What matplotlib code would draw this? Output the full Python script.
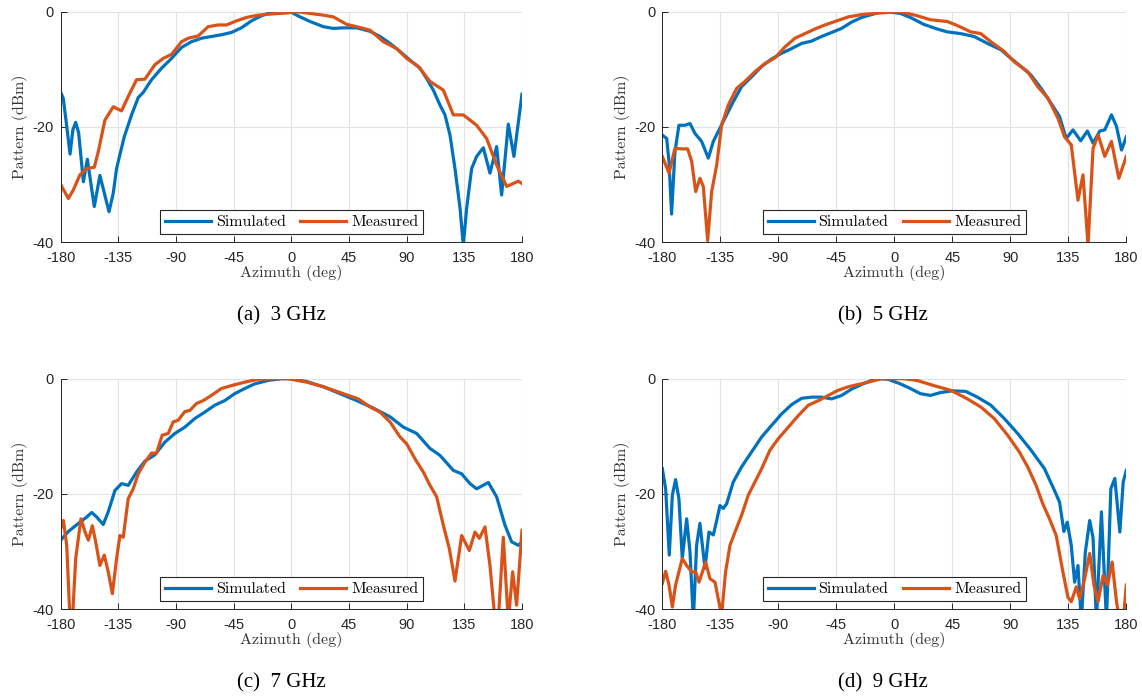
import matplotlib
matplotlib.use("Agg")
import matplotlib.pyplot as plt

# values (azimuth in deg, pattern in dBm)
az_a_sim = [-180, -178, -175.5, -172.7, -170.5, -168.3, -166, -162.3, -159.2, -153.8, -149.4, -142.3, -139, -136.4,
            -130.4, -124.7, -119.5, -115.6, -109.1, -101.3, -93.5, -85.7, -77.9, -70.1, -62.4, -54.6, -46.8, -39,
            -31.2, -23.4, -15.6, -7.8, 0, 6.8, 14.6, 25, 32.8, 40.6, 51, 61.4, 69.2, 77, 84.8, 92.6, 100.4, 105.6,
            110.8, 116, 119.9, 123.8, 127.7, 131.6, 134.2, 136.8, 140.7, 144.6, 149.8, 155, 160.2, 164.1, 169.3,
            173.7, 180]
db_a_sim = [-14.0, -15, -19.5, -24.7, -20.5, -19.2, -21, -29.5, -25.6, -33.8, -28.4, -34.7, -31.5, -27.2,
            -21.7, -17.9, -14.9, -14, -11.8, -9.8, -8.1, -6.2, -5.2, -4.6, -4.3, -4.0, -3.6, -2.8,
            -1.6, -0.7, -0.1, 0, -0.1, -0.9, -1.7, -2.6, -2.9, -2.8, -2.8, -3.4, -4.3, -5.5, -6.9, -8.4, -9.8, -11.6,
            -13.6, -16.2, -17.9, -21.4, -27.2, -34, -40.5, -34.1, -27.2, -25.1, -23.6, -28, -23.4, -31.8, -19.5,
            -25.1, -14.3]
az_a_meas = [-180, -174, -170.1, -165, -159.7, -153.8, -150.7, -145.5, -139, -132.5, -127.3, -120.8, -114.3,
             -106.5, -100, -93.5, -85.7, -80.5, -72.7, -64.9, -57.2, -50.7, -42.9, -35.1, -26, -15.6, -2.6, 4.2,
             14.6, 25, 32.8, 43.2, 51, 61.4, 71.8, 82.2, 90, 99.1, 108.2, 118.6, 126.4, 134.2, 144.6, 152.4, 160.2,
             168, 173.2, 177.1, 180]
db_a_meas = [-30, -32.4, -30.9, -28.3, -27.2, -27, -24.3, -18.8, -16.5, -17.2, -14.7, -11.8, -11.7,
             -9.2, -8.1, -7.4, -5.2, -4.6, -4.2, -2.6, -2.3, -2.3, -1.6, -1.0, -0.6, -0.4, -0.2, 0,
             -0.3, -0.6, -0.9, -2.2, -2.6, -3.2, -5.2, -6.4, -8.1, -9.5, -12.1, -13.6, -17.9, -17.9, -19.7, -22,
             -26.6, -30.3, -29.8, -29.4, -29.8]

az_b_sim = [-180, -176.6, -174.8, -172.8, -170.2, -167.1, -162.4, -158.5, -154.7, -149.5, -144.3, -140.4, -135.3,
            -130.1, -124.9, -118.5, -110.7, -102.9, -95.2, -87.4, -79.7, -71.9, -64.2, -56.4, -48.6, -40.9, -33.1,
            -25.4, -17.6, -9.8, -2.1, 4.7, 12.5, 22.9, 33.3, 41.1, 51.5, 61.9, 72.3, 82.7, 90.5, 98.3, 106.1, 113.9,
            121.7, 128.2, 133.4, 138.6, 144.6, 149.8, 154.2, 159.4, 163.3, 168.5, 172.4, 176.3, 180]
db_b_sim = [-21.4, -22, -26, -35.1, -24.3, -19.7, -19.7, -19.4, -21.1, -22.5, -25.4, -22.5, -20.2,
            -17.9, -15.6, -13, -11.3, -9.5, -8.2, -7.2, -6.4, -5.5, -5.1, -4.3, -3.6, -2.9, -1.8,
            -1.0, -0.5, 0, -0.1, -0.3, -1, -2.2, -3, -3.5, -3.8, -4.3, -5.5, -6.6, -8.1, -9.5, -11, -13.3,
            -15.9, -18.2, -22, -20.5, -22.4, -20.7, -22.8, -20.7, -20.5, -17.9, -19.9, -24, -21.7]
az_b_meas = [-180, -174.8, -170.2, -165, -160.3, -157.2, -154.1, -150.8, -148.2, -144.8, -141.7, -137.8, -134,
             -128.8, -122.3, -115.9, -108.1, -100.4, -92.6, -84.8, -77.1, -69.3, -61.6, -53.8, -44.8, -35.7, -25.4,
             -15, -4.7, 4.7, 17.7, 28.1, 41.1, 48.9, 59.3, 67.1, 74.9, 85.3, 93.1, 103.5, 111.3, 119.2, 127, 132.1,
             137.3, 142.5, 146.4, 150.3, 154.2, 158.2, 163.3, 168.5, 174.2, 180]
db_b_meas = [-25.1, -28, -23.7, -23.8, -23.8, -26, -31.2, -28.9, -30.3, -39.7, -31.2, -26.6, -19.7,
             -16.2, -13.3, -12.1, -10.4, -9, -8, -6.1, -4.6, -3.8, -3, -2.3, -1.6, -0.9, -0.5,
             -0.3, -0.1, 0, -0.7, -1.4, -1.7, -2.4, -3.5, -3.8, -5.2, -6.9, -8.7, -10.4, -13, -15, -18.5, -21.7,
             -23.1, -32.7, -28.3, -40.5, -23.7, -21.4, -25.1, -22.5, -28.9, -25.1]

az_c_sim = [-180, -174, -166.2, -159.7, -155.8, -151.9, -146.8, -142.9, -137.7, -132.5, -127.3, -120.8, -114.3,
            -106.5, -98.7, -90.9, -83.1, -75.3, -67.6, -59.8, -52, -44.2, -36.4, -28.6, -18.2, -7.8, 0, 12, 25, 38,
            51, 64, 77, 87.4, 97.8, 108.2, 116, 126.4, 132.9, 139.4, 144.6, 153.7, 160.2, 166.7, 171.9, 177.1, 180]
db_c_sim = [-28, -26.5, -25.1, -24, -23.2, -24, -25.3, -23.1, -19.4, -18.2, -18.5, -16.2, -14.3,
            -13.2, -11, -9.5, -8.4, -6.9, -5.8, -4.6, -3.8, -2.6, -1.7, -0.9, -0.3, 0, 0, -0.5, -1.4, -2.6,
            -3.8, -5.1, -6.6, -8.4, -9.5, -12.1, -13.3, -15.9, -16.5, -18.2, -19.1, -18, -20.5, -25.4, -28.3,
            -28.9, -28.3]
az_c_meas = [-180, -177.9, -175.3, -172.7, -170.9, -168.3, -164.2, -161, -158.4, -155.3, -152.7, -149.4, -146,
             -142.9, -139.7, -136.4, -133.8, -131.2, -127.3, -123.4, -119.5, -114.3, -109.1, -105.2, -100.8, -96.1,
             -92.2, -88.3, -83.1, -79.2, -74, -68.8, -62.4, -54.6, -46.8, -36.4, -26, -13, -2.6, 12, 25, 38, 52.3,
             61.4, 69.2, 77, 84.8, 90, 96.5, 103, 108.2, 113.4, 118.6, 123.3, 127.7, 132.9, 138.9, 143.3, 146.7,
             151.1, 155, 159, 161.5, 165.4, 169.3, 172.7, 175.8, 180]
db_c_meas = [-26, -24.6, -28.9, -42, -42, -31.2, -24.3, -26.6, -28, -25.5, -28.3, -32.4, -30.6,
             -33.5, -37.3, -31.2, -27.2, -27.5, -20.8, -19.1, -16.5, -14.5, -12.9, -12.9, -9.8, -9.5,
             -7.5, -7.2, -5.7, -5.5, -4.3, -3.8, -2.9, -1.7, -1.2, -0.6, -0.1, 0, 0, -0.6, -1.4, -2.4, -3.5,
             -4.9, -5.8, -7.5, -10.1, -11.3, -13.9, -16.2, -18.5, -20.5, -25.4, -29.5, -35.1, -27.2, -29.8, -26.6,
             -27.7, -25.7, -32.4, -42, -42, -27.5, -42, -33.5, -39.3, -26.3]

az_d_sim = [-180, -177.4, -174.6, -172.2, -169.7, -167.1, -164.5, -161.1, -158.5, -155.9, -153.4, -150.8, -146.9,
            -143.8, -140.4, -137.8, -135.3, -132.7, -130.1, -124.9, -118.5, -110.7, -102.9, -95.2, -87.4, -79.7,
            -71.9, -64.2, -56.4, -48.6, -40.9, -33.1, -25.4, -17.6, -11.1, -4.7, 4.7, 12.5, 20.3, 28.1, 35.9, 45,
            55.4, 64.5, 74.9, 85.3, 95.7, 106.1, 116.5, 124.3, 128.2, 131.6, 134.2, 137.3, 139.9, 142.5, 145.1,
            148.2, 151.6, 154.2, 156.8, 160.7, 164.6, 168, 171.1, 175, 177.6, 180]
db_d_sim = [-15.6, -19.1, -30.6, -20.2, -17.5, -20.8, -31.2, -24.3, -30.1, -42, -28.9, -25.1, -32.9,
            -26.6, -27.1, -24.6, -22, -22.5, -21.7, -17.9, -15.3, -12.7, -10.1, -8.1, -6.1, -4.5,
            -3.4, -3.2, -3.2, -3.5, -2.9, -1.8, -1, -0.3, 0, -0.1, -0.9, -1.7, -2.6, -2.9, -2.4, -2.1,
            -2.2, -3.2, -4.6, -6.9, -9.5, -12.4, -15.6, -19.4, -21.4, -26.5, -24.9, -28.9, -35.3, -32.4, -42,
            -30.1, -24.6, -27.6, -42, -23.1, -42, -19.1, -17.3, -26.6, -17.9, -15.9]
az_d_meas = [-180, -177.4, -174.8, -172.2, -169.7, -164.5, -161.1, -157.2, -154.1, -151.5, -146.4, -143, -139.1,
             -136.6, -134, -130.9, -127.5, -123.6, -118.5, -113.3, -108.1, -102.9, -96.5, -90, -82.2, -74.5, -66.7,
             -58.9, -51.2, -43.4, -35.7, -27.9, -20.2, -9.8, -4.7, 7.3, 17.7, 30.7, 43.7, 56.7, 67.1, 77.5, 87.9,
             97, 103.5, 110, 115.2, 120.4, 125.6, 130.8, 134.7, 137.3, 141.2, 143.8, 147.7, 151.6, 154.9, 158.1,
             162, 165.4, 169, 172.4, 175, 177.6, 180]
db_d_meas = [-35.5, -33.4, -35.8, -39.6, -35.8, -31.2, -32.4, -33.5, -33.5, -35.3, -31.8, -34.7, -35.3,
             -38.2, -41, -33.5, -28.9, -26.6, -23.7, -20.2, -17.9, -15.6, -12.4, -10.4, -8.4, -6.4, -4.6,
             -3.8, -2.9, -2.0, -1.4, -1.0, -0.6, 0, 0, 0, -0.3, -1.2, -2.0, -3.5, -4.9, -6.9, -9.8,
             -12.7, -15.3, -18.5, -21.7, -24.3, -27.2, -33.5, -37.9, -38.7, -36.1, -38.2, -34.7, -30.3, -35.8, -38.7,
             -34.1, -35.8, -31.8, -38.7, -42, -42, -35.8]

captions = ['(a)  3 GHz', '(b)  5 GHz', '(c)  7 GHz', '(d)  9 GHz']
xticks = [-180, -135, -90, -45, 0, 45, 90, 135, 180]
yticks = [-40, -20, 0]

plt.rcParams['axes.unicode_minus'] = False
blue = '#0072BD'
orange = '#D95319'
dark = '#262626'

fig = plt.figure(figsize=(11.42, 7), dpi=100)

# axes boxes in pixels: left, top, width, height
boxes = [(60.7, 11.7, 461.3, 230.6), (662.3, 11.7, 464, 230.6),
         (60.7, 378.7, 461.3, 230.6), (662.3, 378.7, 464, 230.6)]
data = [(az_a_sim, db_a_sim, az_a_meas, db_a_meas), (az_b_sim, db_b_sim, az_b_meas, db_b_meas),
        (az_c_sim, db_c_sim, az_c_meas, db_c_meas), (az_d_sim, db_d_sim, az_d_meas, db_d_meas)]
cap_pos = [(281, 316), (883, 316), (281, 683), (883, 683)]

for i in range(4):
    l, t, w, h = boxes[i]
    ax = fig.add_axes([l / 1142, 1 - (t + h) / 700, w / 1142, h / 700])
    xs, ys, xm, ym = data[i]
    ax.plot(xs, ys, color=blue, lw=2.3, label='Simulated', solid_joinstyle='round')
    ax.plot(xm, ym, color=orange, lw=2.3, label='Measured', solid_joinstyle='round')
    ax.set_xlim(-180, 180)
    ax.set_ylim(-40, 0)
    ax.set_xticks(xticks)
    ax.set_yticks(yticks)
    ax.grid(True, color='#e3e3e3', lw=0.8)
    ax.set_axisbelow(True)
    for s in ['top', 'right']:
        ax.spines[s].set_visible(False)
    for s in ['left', 'bottom']:
        ax.spines[s].set_color(dark)
        ax.spines[s].set_linewidth(0.7)
    ax.tick_params(direction='in', length=4, width=0.7, color=dark, labelcolor=dark)
    ax.tick_params(axis='x', pad=6)
    ax.tick_params(axis='y', pad=5)
    for lab in ax.get_xticklabels() + ax.get_yticklabels():
        lab.set_family('Liberation Sans')
        lab.set_fontsize(10.5)
    ax.set_xlabel('Azimuth (deg)', family='cmr10', fontsize=11.5, color='#333333', labelpad=0)
    ax.set_ylabel('Pattern (dBm)', family='cmr10', fontsize=11.5, color='#333333', labelpad=3)
    leg = ax.legend(loc='lower center', ncol=2, bbox_to_anchor=(0.5, 0.035), prop={'family': 'cmr10', 'size': 11.5},
                    fancybox=False, framealpha=1, edgecolor=dark, handlelength=2.9, handletextpad=0.3,
                    columnspacing=0.9, borderpad=0.3, borderaxespad=0)
    leg.get_frame().set_linewidth(0.8)
    fig.text(cap_pos[i][0] / 1142, 1 - cap_pos[i][1] / 700, captions[i], ha='center', va='center',
             family='Liberation Serif', fontsize=15)

plt.savefig('out.png', dpi=100)
